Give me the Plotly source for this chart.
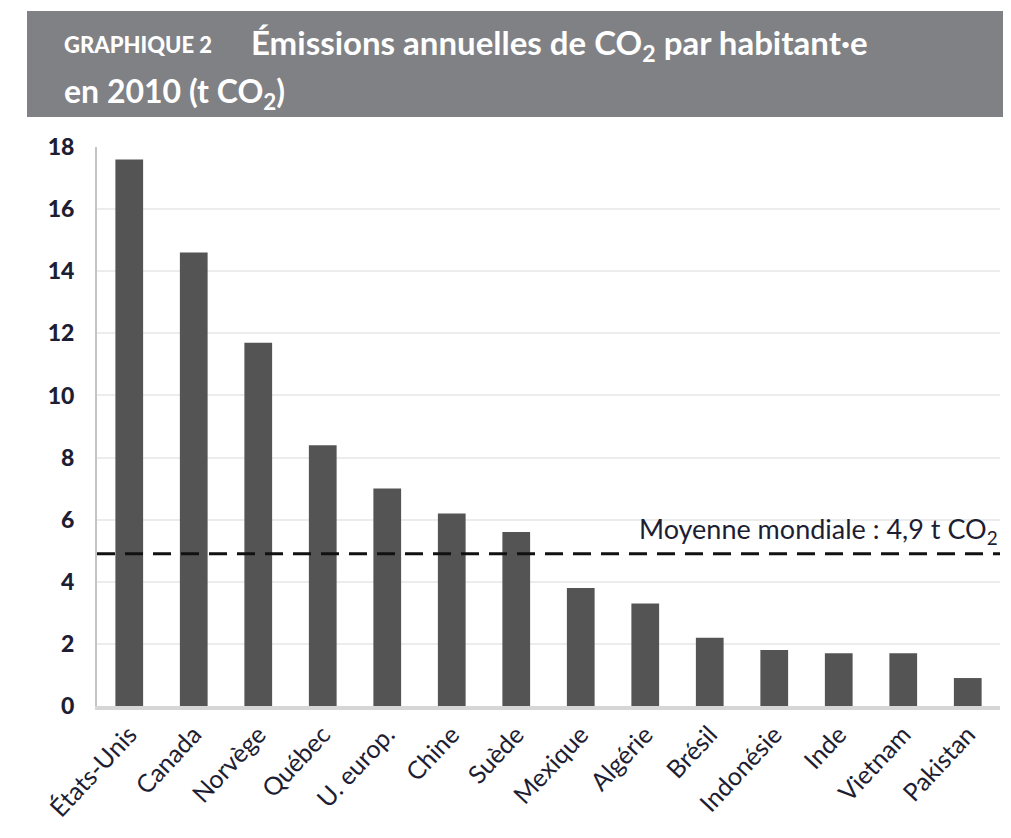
import plotly.graph_objects as go

# Données : émissions annuelles de CO2 par habitant·e en 2010 (t CO2)
pays = ['États-Unis', 'Canada', 'Norvège', 'Québec', 'U. europ.', 'Chine', 'Suède',
        'Mexique', 'Algérie', 'Brésil', 'Indonésie', 'Inde', 'Vietnam', 'Pakistan']
emissions = [17.6, 14.6, 11.7, 8.4, 7.0, 6.2, 5.6, 3.8, 3.3, 2.2, 1.8, 1.7, 1.7, 0.9]
moyenne_mondiale = 4.9
y_ticks = [0, 2, 4, 6, 8, 10, 12, 14, 16, 18]

FONT = "Lato, Roboto, Liberation Sans, sans-serif"
TXT = '#1d1d33'

fig = go.Figure()

fig.add_trace(go.Bar(
    x=pays,
    y=emissions,
    marker=dict(color='#545454', line=dict(width=0)),
    showlegend=False
))

# Ligne de la moyenne mondiale
fig.add_shape(
    type='line', xref='paper', yref='y',
    x0=0, x1=1, y0=moyenne_mondiale, y1=moyenne_mondiale,
    line=dict(color='#111111', width=3, dash='18px,10px'),
    layer='above'
)
fig.add_annotation(
    xref='paper', yref='y', x=1, y=moyenne_mondiale,
    text='Moyenne mondiale : 4,9 t CO<sub>2</sub>',
    showarrow=False, xanchor='right', yanchor='bottom', yshift=3,
    font=dict(family=FONT, size=27, color=TXT)
)

# Bandeau de titre
fig.add_shape(
    type='rect', xref='paper', yref='paper',
    x0=-0.0775, x1=1.03, y0=1.0537, y1=1.2433,
    fillcolor='#808185', line=dict(width=0), layer='below'
)
fig.add_annotation(
    xref='paper', yref='paper', x=-0.0388, y=1.1825,
    text='GRAPHIQUE 2',
    showarrow=False, xanchor='left', yanchor='middle',
    font=dict(family=FONT, size=22, color='white', weight=900)
)
fig.add_annotation(
    xref='paper', yref='paper', x=0.1683, y=1.1825,
    text='Émissions annuelles de CO<sub>2</sub> par habitant·e',
    showarrow=False, xanchor='left', yanchor='middle',
    font=dict(family=FONT, size=33, color='white', weight=700)
)
fig.add_annotation(
    xref='paper', yref='paper', x=-0.0388, y=1.0966,
    text='en 2010 (t CO<sub>2</sub>)',
    showarrow=False, xanchor='left', yanchor='middle',
    font=dict(family=FONT, size=32, color='white', weight=700)
)

# la page ajoute 8 px de marge autour de la figure
fig.update_layout(
    width=995, height=822,
    margin=dict(l=89, r=3, t=139, b=124),
    paper_bgcolor='white',
    plot_bgcolor='white',
    bargap=0.57,
    font=dict(family=FONT, color=TXT)
)

fig.update_xaxes(
    tickangle=-47,
    tickfont=dict(family=FONT, size=25, color=TXT),
    showgrid=False,
    showline=True, linecolor='#d6d6d6', linewidth=4,
    ticks='', automargin=False
)
fig.update_yaxes(
    range=[0, 18],
    tickvals=y_ticks,
    tickfont=dict(family=FONT, size=23, color=TXT, weight=900),
    ticklabelstandoff=16,
    showgrid=True, gridcolor='#ececec', gridwidth=2,
    showline=True, linecolor='#c4c4c4', linewidth=2,
    zeroline=False,
    ticks='', automargin=False
)

fig.write_html("out.html")
